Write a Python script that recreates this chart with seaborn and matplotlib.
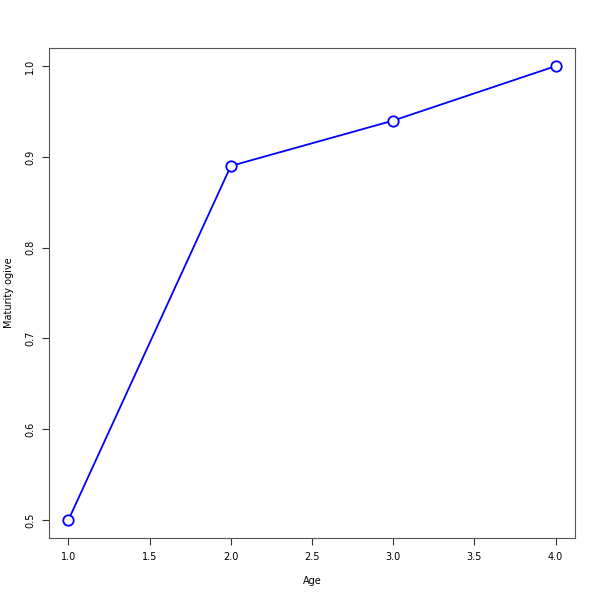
import matplotlib
matplotlib.use("Agg")
import matplotlib.pyplot as plt
import seaborn as sns
import pandas as pd

age = [1, 2, 3, 4]
maturity = [0.5, 0.89, 0.94, 1.0]
x_ticks = [1.0, 1.5, 2.0, 2.5, 3.0, 3.5, 4.0]
y_ticks = [0.5, 0.6, 0.7, 0.8, 0.9, 1.0]

df = pd.DataFrame({"Age": age, "Maturity ogive": maturity})

sns.set_style("white")
fig = plt.figure(figsize=(6, 6), dpi=100)
ax = fig.add_axes([49/600, 1-538/600, (575-49)/600, (538-48)/600])

sns.lineplot(data=df, x="Age", y="Maturity ogive", ax=ax, color="blue",
             linewidth=1.3, marker="o", markersize=7.5, markerfacecolor="white",
             markeredgecolor="blue", markeredgewidth=1.3)

ax.set_xlim(0.88, 4.12)
ax.set_ylim(0.48, 1.02)
ax.set_xticks(x_ticks)
ax.set_xticklabels([f"{v:.1f}" for v in x_ticks])
ax.set_yticks(y_ticks)
ax.set_yticklabels([f"{v:.1f}" for v in y_ticks], rotation=90, va="center")
ax.tick_params(axis="both", direction="out", length=5, width=0.8, labelsize=7,
               color="#333333", labelcolor="black", left=True, bottom=True, pad=5)
for s in ax.spines.values():
    s.set_color("#555555")
    s.set_linewidth(0.8)
ax.set_xlabel("Age", fontsize=7, labelpad=10, color="black")
ax.set_ylabel("Maturity ogive", fontsize=7, labelpad=8, color="black")

fig.savefig("out.png", dpi=100, facecolor="white")
